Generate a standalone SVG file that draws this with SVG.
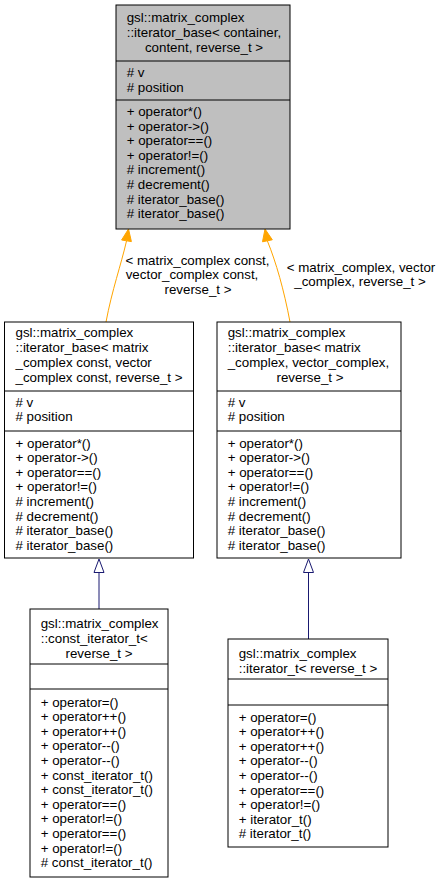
<svg xmlns="http://www.w3.org/2000/svg" width="442" height="883" viewBox="0 0 442 883">
<style>
text{font-family:"Liberation Sans",Arial,Helvetica,sans-serif;font-size:13.33px;fill:#000}
.c{text-anchor:middle}
.box{fill:#fff;stroke:#000;stroke-width:1}
.root{fill:#bfbfbf;stroke:#000;stroke-width:1}
.div{stroke:#000;stroke-width:1}
.inh{fill:none;stroke:#191970;stroke-width:1}
.inhHead{fill:#fff;stroke:#191970;stroke-width:1}
.tpl{fill:none;stroke:#ffa500;stroke-width:1}
.tplHead{fill:#ffa500;stroke:#ffa500;stroke-width:1}
</style>
<rect width="442" height="883" fill="#fff"/>

<g id="connectors">
  <path class="tpl" d="M106,322 C112,290 121,265 126.5,241"/>
  <polygon class="tplHead" points="128.5,229 121.6,240 131.4,241.6"/>
  <path class="tpl" d="M290,322 C284,290 276,262 267.4,241"/>
  <polygon class="tplHead" points="265,229 272.3,239.8 262.5,241.8"/>
  <text class="c" x="197.5" y="264.7">&lt; matrix_complex const,</text>
  <text class="c" x="192" y="279.3">vector_complex const,</text>
  <text class="c" x="198" y="293.9">reverse_t &gt;</text>
  <text class="c" x="361" y="271.5">&lt; matrix_complex, vector</text>
  <text class="c" x="360" y="286.1">_complex, reverse_t &gt;</text>
  <line class="inh" x1="99" y1="609" x2="99" y2="572.5"/>
  <polygon class="inhHead" points="99,559 94,572.5 104,572.5"/>
  <line class="inh" x1="308.5" y1="639" x2="308.5" y2="572.5"/>
  <polygon class="inhHead" points="308.5,559 303.5,572.5 313.5,572.5"/>
</g>

<g id="node-iterator_base">
  <rect class="root" x="116" y="5" width="174" height="224"/>
  <text x="126.7" y="21.5">gsl::matrix_complex</text>
  <text x="126.7" y="36.5">::iterator_base&lt; container,</text>
  <text class="c" x="204" y="51.5">content, reverse_t &gt;</text>
  <line class="div" x1="116" y1="61" x2="290" y2="61"/>
  <text x="126.7" y="77"># v</text>
  <text x="126.7" y="91.6"># position</text>
  <line class="div" x1="116" y1="100" x2="290" y2="100"/>
  <text x="126.7" y="116">+ operator*()</text>
  <text x="126.7" y="130.6">+ operator-&gt;()</text>
  <text x="126.7" y="145.2">+ operator==()</text>
  <text x="126.7" y="159.8">+ operator!=()</text>
  <text x="126.7" y="174.4"># increment()</text>
  <text x="126.7" y="189"># decrement()</text>
  <text x="126.7" y="203.6"># iterator_base()</text>
  <text x="126.7" y="218.2"># iterator_base()</text>
</g>

<g id="node-iterator_base_const">
  <rect class="box" x="4.5" y="322" width="189" height="236"/>
  <text x="15.5" y="336.5">gsl::matrix_complex</text>
  <text x="15.5" y="351.5">::iterator_base&lt; matrix</text>
  <text x="15.5" y="366.5">_complex const, vector</text>
  <text class="c" x="99" y="381.7">_complex const, reverse_t &gt;</text>
  <line class="div" x1="4.5" y1="391" x2="193.5" y2="391"/>
  <text x="15.5" y="406.5"># v</text>
  <text x="15.5" y="421.1"># position</text>
  <line class="div" x1="4.5" y1="431" x2="193.5" y2="431"/>
  <text x="15.5" y="447.5">+ operator*()</text>
  <text x="15.5" y="462.1">+ operator-&gt;()</text>
  <text x="15.5" y="476.7">+ operator==()</text>
  <text x="15.5" y="491.3">+ operator!=()</text>
  <text x="15.5" y="505.9"># increment()</text>
  <text x="15.5" y="520.5"># decrement()</text>
  <text x="15.5" y="535.1"># iterator_base()</text>
  <text x="15.5" y="549.7"># iterator_base()</text>
</g>

<g id="node-iterator_base_mut">
  <rect class="box" x="217" y="322" width="184" height="236"/>
  <text x="227.7" y="336.5">gsl::matrix_complex</text>
  <text x="227.7" y="351.5">::iterator_base&lt; matrix</text>
  <text x="227.7" y="366.5">_complex, vector_complex,</text>
  <text class="c" x="310" y="381.7">reverse_t &gt;</text>
  <line class="div" x1="217" y1="391" x2="401" y2="391"/>
  <text x="227.7" y="406.5"># v</text>
  <text x="227.7" y="421.1"># position</text>
  <line class="div" x1="217" y1="431" x2="401" y2="431"/>
  <text x="227.7" y="447.5">+ operator*()</text>
  <text x="227.7" y="462.1">+ operator-&gt;()</text>
  <text x="227.7" y="476.7">+ operator==()</text>
  <text x="227.7" y="491.3">+ operator!=()</text>
  <text x="227.7" y="505.9"># increment()</text>
  <text x="227.7" y="520.5"># decrement()</text>
  <text x="227.7" y="535.1"># iterator_base()</text>
  <text x="227.7" y="549.7"># iterator_base()</text>
</g>

<g id="node-const_iterator_t">
  <rect class="box" x="30" y="609" width="138" height="268"/>
  <text x="40.7" y="627.5">gsl::matrix_complex</text>
  <text x="40.7" y="642.5">::const_iterator_t&lt;</text>
  <text class="c" x="99" y="657.5">reverse_t &gt;</text>
  <line class="div" x1="30" y1="664" x2="168" y2="664"/>
  <line class="div" x1="30" y1="689" x2="168" y2="689"/>
  <text x="40.7" y="706.5">+ operator=()</text>
  <text x="40.7" y="721.1">+ operator++()</text>
  <text x="40.7" y="735.7">+ operator++()</text>
  <text x="40.7" y="750.3">+ operator--()</text>
  <text x="40.7" y="764.9">+ operator--()</text>
  <text x="40.7" y="779.5">+ const_iterator_t()</text>
  <text x="40.7" y="794.1">+ const_iterator_t()</text>
  <text x="40.7" y="808.7">+ operator==()</text>
  <text x="40.7" y="823.3">+ operator!=()</text>
  <text x="40.7" y="837.9">+ operator==()</text>
  <text x="40.7" y="852.5">+ operator!=()</text>
  <text x="40.7" y="867.1"># const_iterator_t()</text>
</g>

<g id="node-iterator_t">
  <rect class="box" x="228" y="639" width="160" height="208"/>
  <text x="238.7" y="657.5">gsl::matrix_complex</text>
  <text class="c" x="308" y="672.5">::iterator_t&lt; reverse_t &gt;</text>
  <line class="div" x1="228" y1="679" x2="388" y2="679"/>
  <line class="div" x1="228" y1="705" x2="388" y2="705"/>
  <text x="238.7" y="721.5">+ operator=()</text>
  <text x="238.7" y="736.1">+ operator++()</text>
  <text x="238.7" y="750.7">+ operator++()</text>
  <text x="238.7" y="765.3">+ operator--()</text>
  <text x="238.7" y="779.9">+ operator--()</text>
  <text x="238.7" y="794.5">+ operator==()</text>
  <text x="238.7" y="809.1">+ operator!=()</text>
  <text x="238.7" y="823.7">+ iterator_t()</text>
  <text x="238.7" y="838.3"># iterator_t()</text>
</g>
</svg>
